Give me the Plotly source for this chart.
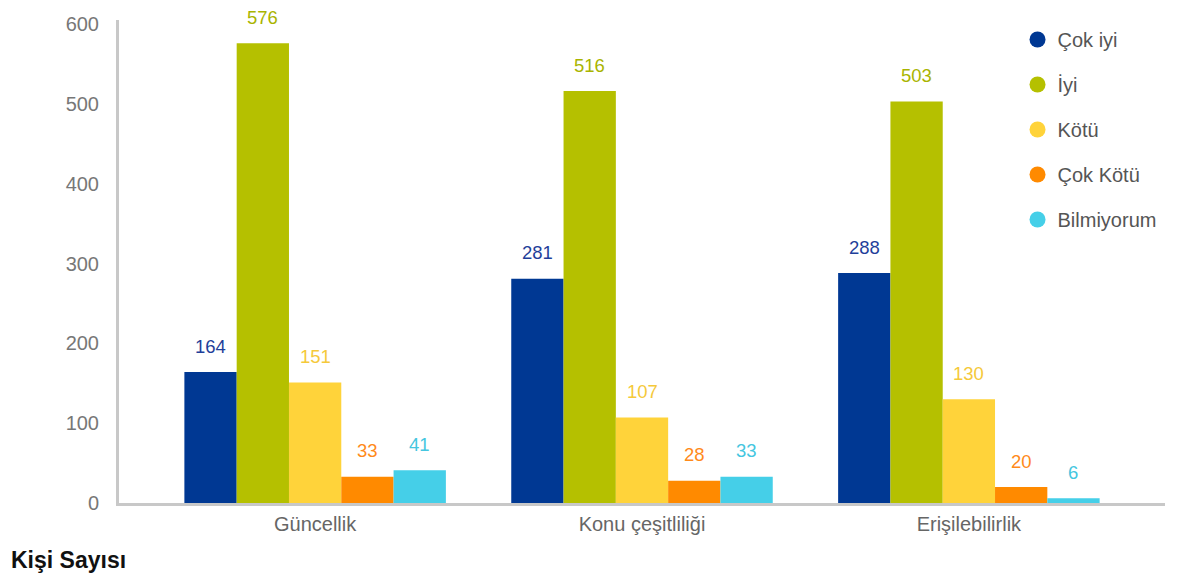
import plotly.graph_objects as go

categories = ["Güncellik", "Konu çeşitliliği", "Erişilebilirlik"]
series_names = ["Çok iyi", "İyi", "Kötü", "Çok Kötü", "Bilmiyorum"]
cok_iyi = [164, 281, 288]
iyi = [576, 516, 503]
kotu = [151, 107, 130]
cok_kotu = [33, 28, 20]
bilmiyorum = [41, 33, 6]
y_ticks = [0, 100, 200, 300, 400, 500, 600]

series_values = [cok_iyi, iyi, kotu, cok_kotu, bilmiyorum]
bar_colors = ["#003893", "#b5c000", "#ffd33a", "#ff8a00", "#45cfe8"]
label_colors = ["#1f3f9a", "#a9b400", "#f5c93a", "#ff8a1a", "#45c6e0"]

FONT = "Liberation Sans, Arial"

fig = go.Figure()
n = len(series_names)
group_w = 0.8
bw = group_w / n
annotations = []
for i, (name, vals, col, lcol) in enumerate(zip(series_names, series_values, bar_colors, label_colors)):
    fig.add_trace(go.Bar(x=categories, y=vals, name=name, marker=dict(color=col, line=dict(width=0)),
                         showlegend=False))
    fig.add_trace(go.Scatter(x=[None], y=[None], mode="markers", name=name, legendgroup=name,
                             marker=dict(symbol="circle", size=24, color=col)))
    off = -group_w / 2 + bw * (i + 0.5)
    for j, v in enumerate(vals):
        annotations.append(dict(x=j + off, y=v, xref="x", yref="y", text=str(v), showarrow=False,
                                yshift=26, font=dict(size=18.5, color=lcol, family=FONT)))

annotations.append(dict(x=-0.1052, y=-0.118, xref="paper", yref="paper", text="<b>Kişi Sayısı</b>",
                        showarrow=False, xanchor="left", yanchor="middle",
                        font=dict(size=23, color="#111111", family=FONT)))

fig.update_layout(
    annotations=annotations,
    width=1178, height=580,
    margin=dict(l=111, r=21, t=12, b=85, autoexpand=False),
    paper_bgcolor="white", plot_bgcolor="white",
    barmode="group", bargap=0.2, bargroupgap=0,
    font=dict(family=FONT, color="#666666"),
    legend=dict(x=0.859, y=1.0, xanchor="left", yanchor="top", bgcolor="rgba(0,0,0,0)",
                font=dict(size=20, color="#555555"), tracegroupgap=16, itemsizing="trace"),
    xaxis=dict(range=[-0.6, 2.6], showline=True, linecolor="#c8c8c8", linewidth=3,
               showgrid=False, ticks="", tickfont=dict(size=20, color="#666666"), zeroline=False,
               ticklabelstandoff=1, automargin=False),
    yaxis=dict(range=[0, 605], tickvals=y_ticks, showline=True, linecolor="#c8c8c8", linewidth=3,
               showgrid=False, ticks="", tickfont=dict(size=20, color="#777777"), zeroline=False,
               ticklabelstandoff=13, automargin=False),
)
fig.write_html("out.html")
